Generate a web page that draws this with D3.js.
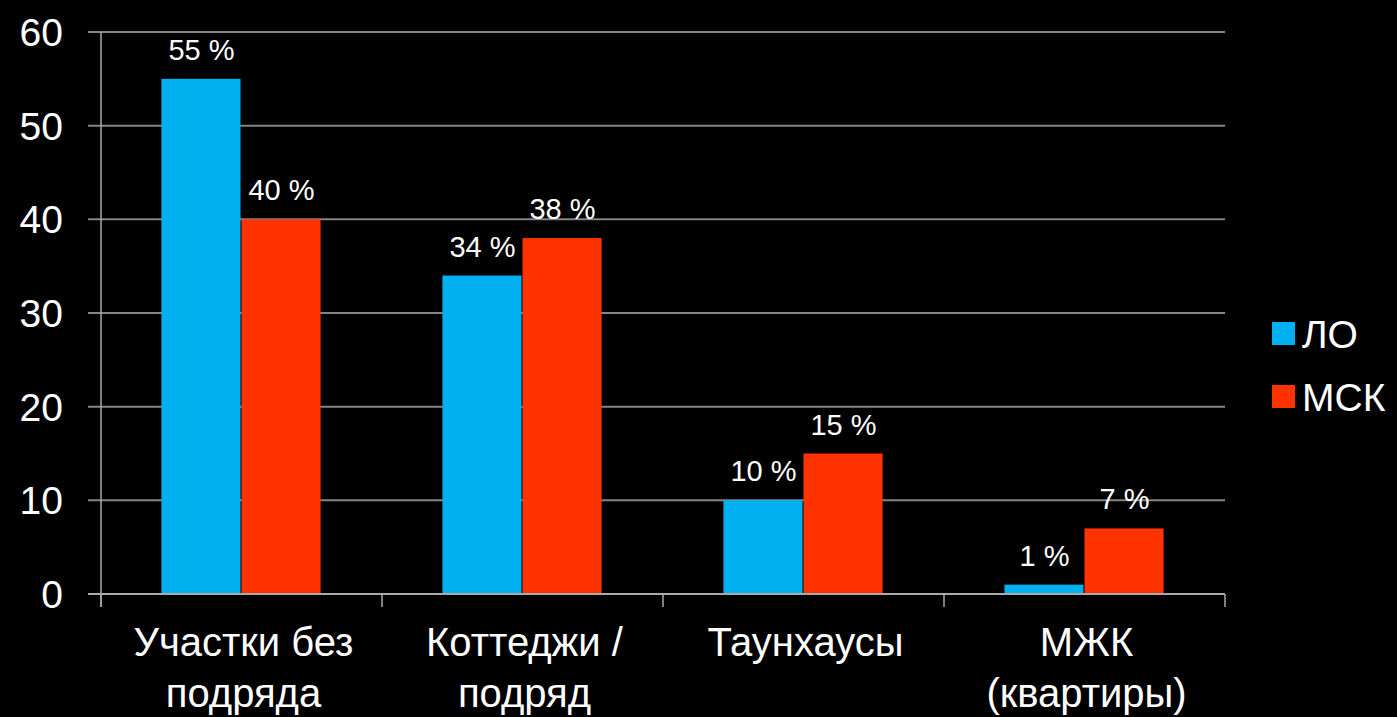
<!DOCTYPE html>
<html>
<head>
<meta charset="utf-8">
<script src="https://d3js.org/d3.v7.min.js"></script>
<style>
  body { margin: 0; background: #000; }
  text { font-family: "Liberation Sans", Arial, sans-serif; fill: #fff; }
</style>
</head>
<body>
<script>
  // data
  var categories = [["Участки без", "подряда"], ["Коттеджи /", "подряд"], ["Таунхаусы"], ["МЖК", "(квартиры)"]];
  var seriesNames = ["ЛО", "МСК"];
  var loValues = [55, 34, 10, 1];
  var mskValues = [40, 38, 15, 7];
  var yTicks = [0, 10, 20, 30, 40, 50, 60];
  var colors = ["#00b0f0", "#ff3300"];

  var width = 1397, height = 717;
  var plotLeft = 101, plotRight = 1225, plotTop = 32, plotBottom = 594;

  var svg = d3.select("body").append("svg")
    .attr("width", width)
    .attr("height", height);

  var x = d3.scaleBand()
    .domain(d3.range(categories.length))
    .range([plotLeft, plotRight]);

  var y = d3.scaleLinear()
    .domain([0, 60])
    .range([plotBottom, plotTop]);

  var groupW = x.bandwidth() * 0.57;
  var x1 = d3.scaleBand()
    .domain([0, 1])
    .range([0, groupW]);

  // gridlines
  svg.append("g").selectAll("line")
    .data(yTicks.filter(function(d) { return d > 0; }))
    .enter().append("line")
    .attr("x1", plotLeft - 13).attr("x2", plotRight)
    .attr("y1", function(d) { return y(d); })
    .attr("y2", function(d) { return y(d); })
    .attr("stroke", "#858585")
    .attr("stroke-width", 2);

  // y tick labels
  svg.append("g").selectAll("text")
    .data(yTicks)
    .enter().append("text")
    .attr("x", 63)
    .attr("y", function(d) { return y(d); })
    .attr("dy", "0.36em")
    .attr("text-anchor", "end")
    .attr("font-size", 39)
    .text(function(d) { return d; });

  // bars
  var series = [loValues, mskValues];
  series.forEach(function(vals, s) {
    var g = svg.append("g");
    g.selectAll("rect")
      .data(vals)
      .enter().append("rect")
      .attr("x", function(d, i) { return x(i) + (x.bandwidth() - groupW) / 2 + x1(s); })
      .attr("y", function(d) { return y(d); })
      .attr("width", x1.bandwidth() - 1)
      .attr("height", function(d) { return plotBottom - y(d); })
      .attr("fill", colors[s]);
    g.selectAll("text")
      .data(vals)
      .enter().append("text")
      .attr("x", function(d, i) { return x(i) + (x.bandwidth() - groupW) / 2 + x1(s) + x1.bandwidth() / 2; })
      .attr("y", function(d) { return y(d) - 19; })
      .attr("text-anchor", "middle")
      .attr("font-size", 29)
      .text(function(d) { return d + " %"; });
  });

  // axes lines
  svg.append("line")
    .attr("x1", plotLeft).attr("x2", plotLeft)
    .attr("y1", plotTop).attr("y2", plotBottom + 13)
    .attr("stroke", "#aaa").attr("stroke-width", 1.5);
  svg.append("line")
    .attr("x1", plotLeft - 13).attr("x2", plotRight)
    .attr("y1", plotBottom).attr("y2", plotBottom)
    .attr("stroke", "#aaa").attr("stroke-width", 2);
  svg.append("g").selectAll("line")
    .data(d3.range(categories.length + 1))
    .enter().append("line")
    .attr("x1", function(d) { return plotLeft + d * x.step(); })
    .attr("x2", function(d) { return plotLeft + d * x.step(); })
    .attr("y1", plotBottom).attr("y2", plotBottom + 13)
    .attr("stroke", "#aaa").attr("stroke-width", 1.5);

  // category labels
  var cat = svg.append("g").selectAll("text")
    .data(categories)
    .enter().append("text")
    .attr("text-anchor", "middle")
    .attr("font-size", 40)
    .attr("x", function(d, i) { return x(i) + x.bandwidth() / 2 + 2; })
    .attr("y", 656);
  cat.selectAll("tspan")
    .data(function(d) { return d; })
    .enter().append("tspan")
    .attr("x", function() { return d3.select(this.parentNode).attr("x"); })
    .attr("dy", function(d, i) { return i ? 51 : 0; })
    .text(function(d) { return d; });

  // legend
  var legend = svg.append("g").selectAll("g")
    .data(seriesNames)
    .enter().append("g")
    .attr("transform", function(d, i) { return "translate(1272," + (322 + i * 63) + ")"; });
  legend.append("rect")
    .attr("width", 23).attr("height", 23)
    .attr("fill", function(d, i) { return colors[i]; });
  legend.append("text")
    .attr("x", 30).attr("y", 12)
    .attr("dy", "0.36em")
    .attr("font-size", 39)
    .text(function(d) { return d; });
</script>
</body>
</html>
